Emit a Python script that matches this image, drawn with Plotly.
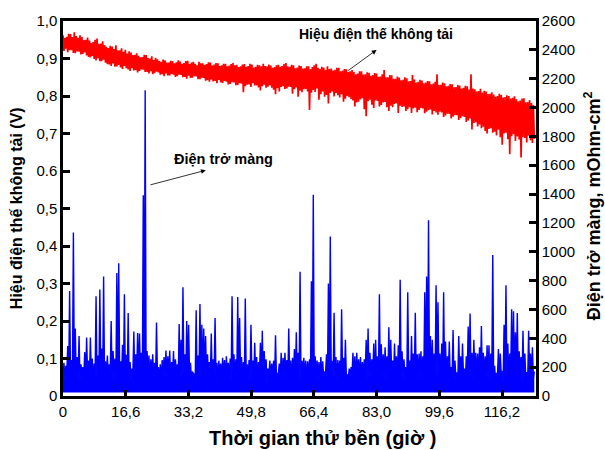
import plotly.graph_objects as go

# ---------------- data ----------------
# Open-circuit voltage (V): band tops at t = 0, 0.5, 1.0, ... h and band bottoms at t = 0.25, 0.75, ...
ocv_hours_top = [i * 0.5 for i in range(250)]
ocv_top = [
    0.962, 0.955, 0.958, 0.966, 0.965, 0.957, 0.970, 0.960, 0.955, 0.962,
    0.957, 0.949, 0.950, 0.956, 0.948, 0.941, 0.944, 0.950, 0.953, 0.939,
    0.940, 0.946, 0.936, 0.931, 0.928, 0.934, 0.932, 0.925, 0.935, 0.922,
    0.922, 0.927, 0.918, 0.923, 0.913, 0.919, 0.916, 0.909, 0.910, 0.914,
    0.907, 0.903, 0.904, 0.910, 0.909, 0.901, 0.900, 0.906, 0.896, 0.902,
    0.898, 0.893, 0.891, 0.897, 0.895, 0.889, 0.889, 0.894, 0.893, 0.887,
    0.890, 0.895, 0.892, 0.886, 0.888, 0.893, 0.894, 0.885, 0.889, 0.891,
    0.886, 0.882, 0.891, 0.887, 0.887, 0.883, 0.885, 0.890, 0.889, 0.881,
    0.884, 0.888, 0.887, 0.880, 0.882, 0.886, 0.886, 0.879, 0.881, 0.885,
    0.888, 0.882, 0.883, 0.877, 0.879, 0.884, 0.885, 0.878, 0.880, 0.886,
    0.884, 0.876, 0.878, 0.883, 0.882, 0.879, 0.886, 0.880, 0.879, 0.884,
    0.881, 0.875, 0.877, 0.882, 0.883, 0.878, 0.880, 0.885, 0.888, 0.879,
    0.878, 0.883, 0.882, 0.874, 0.876, 0.881, 0.880, 0.873, 0.874, 0.879,
    0.879, 0.872, 0.877, 0.882, 0.886, 0.875, 0.872, 0.878, 0.876, 0.870,
    0.879, 0.872, 0.873, 0.868, 0.870, 0.875, 0.875, 0.866, 0.868, 0.872,
    0.871, 0.864, 0.866, 0.869, 0.864, 0.858, 0.860, 0.866, 0.866, 0.857,
    0.858, 0.863, 0.862, 0.854, 0.856, 0.861, 0.860, 0.851, 0.852, 0.858,
    0.869, 0.850, 0.850, 0.856, 0.855, 0.846, 0.846, 0.852, 0.849, 0.842,
    0.843, 0.850, 0.847, 0.839, 0.840, 0.856, 0.844, 0.836, 0.838, 0.843,
    0.841, 0.834, 0.836, 0.840, 0.839, 0.831, 0.833, 0.838, 0.858, 0.830,
    0.830, 0.836, 0.834, 0.826, 0.827, 0.832, 0.831, 0.823, 0.824, 0.829,
    0.828, 0.820, 0.822, 0.827, 0.826, 0.817, 0.858, 0.820, 0.818, 0.812,
    0.813, 0.819, 0.809, 0.814, 0.812, 0.805, 0.806, 0.810, 0.804, 0.798,
    0.800, 0.806, 0.803, 0.796, 0.797, 0.802, 0.800, 0.793, 0.795, 0.799,
    0.791, 0.786, 0.788, 0.793, 0.794, 0.783, 0.784, 0.789, 0.781, 0.776,
]
ocv_hours_bot = [i * 0.5 + 0.25 for i in range(250)]
ocv_bot = [
    0.920, 0.926, 0.917, 0.922, 0.922, 0.915, 0.914, 0.919, 0.918, 0.911,
    0.912, 0.916, 0.908, 0.904, 0.903, 0.907, 0.899, 0.895, 0.901, 0.893,
    0.893, 0.897, 0.889, 0.885, 0.884, 0.880, 0.887, 0.878, 0.879, 0.883,
    0.876, 0.872, 0.880, 0.874, 0.871, 0.867, 0.874, 0.868, 0.869, 0.863,
    0.867, 0.871, 0.870, 0.864, 0.864, 0.860, 0.866, 0.858, 0.861, 0.865,
    0.863, 0.857, 0.858, 0.853, 0.860, 0.855, 0.855, 0.859, 0.857, 0.851,
    0.853, 0.857, 0.856, 0.850, 0.851, 0.846, 0.854, 0.848, 0.849, 0.853,
    0.852, 0.845, 0.845, 0.849, 0.848, 0.841, 0.842, 0.838, 0.844, 0.839,
    0.840, 0.834, 0.843, 0.836, 0.835, 0.840, 0.838, 0.831, 0.832, 0.837,
    0.836, 0.829, 0.829, 0.834, 0.833, 0.810, 0.826, 0.830, 0.831, 0.824,
    0.834, 0.828, 0.828, 0.823, 0.815, 0.826, 0.830, 0.822, 0.825, 0.829,
    0.822, 0.817, 0.805, 0.821, 0.812, 0.824, 0.826, 0.819, 0.820, 0.825,
    0.824, 0.806, 0.818, 0.823, 0.798, 0.814, 0.810, 0.818, 0.819, 0.812,
    0.763, 0.809, 0.816, 0.811, 0.820, 0.790, 0.805, 0.812, 0.798, 0.803,
    0.780, 0.808, 0.812, 0.799, 0.808, 0.802, 0.796, 0.805, 0.785, 0.793,
    0.800, 0.797, 0.792, 0.788, 0.772, 0.783, 0.785, 0.791, 0.794, 0.765,
    0.746, 0.786, 0.790, 0.777, 0.768, 0.788, 0.787, 0.772, 0.776, 0.783,
    0.784, 0.770, 0.760, 0.774, 0.770, 0.779, 0.781, 0.755, 0.774, 0.771,
    0.772, 0.760, 0.765, 0.770, 0.755, 0.767, 0.769, 0.757, 0.763, 0.768,
    0.767, 0.754, 0.758, 0.762, 0.764, 0.751, 0.760, 0.756, 0.750, 0.758,
    0.756, 0.744, 0.748, 0.753, 0.752, 0.740, 0.745, 0.749, 0.749, 0.736,
    0.741, 0.746, 0.744, 0.731, 0.735, 0.740, 0.711, 0.728, 0.730, 0.719,
    0.724, 0.714, 0.718, 0.707, 0.700, 0.712, 0.714, 0.702, 0.705, 0.695,
    0.710, 0.690, 0.670, 0.700, 0.702, 0.685, 0.645, 0.693, 0.698, 0.680,
    0.692, 0.684, 0.636, 0.690, 0.688, 0.676, 0.694, 0.682, 0.675, 0.686,
]

# Membrane resistance (mOhm-cm2): peaks at t = 0.25, 0.75, ... and troughs at t = 0, 0.5, ...
res_hours_peak = [i * 0.5 + 0.25 for i in range(250)]
res_peak = [
    230, 210, 346, 728, 250, 1134, 468, 270, 416, 220, 200, 304, 406, 245, 406, 260, 225, 692, 280, 738,
    330, 829, 240, 280, 220, 520, 312, 260, 853, 920, 240, 356, 705, 285, 575, 235, 190, 447, 290, 437,
    434, 300, 1391, 2119, 312, 280, 255, 290, 230, 510, 200, 220, 250, 270, 315, 275, 315, 235, 312, 255,
    220, 499, 390, 754, 290, 520, 494, 230, 170, 150, 595, 280, 637, 494, 468, 416, 290, 235, 434, 255,
    541, 230, 245, 225, 265, 250, 275, 230, 260, 692, 290, 255, 686, 541, 270, 235, 676, 220, 250, 494,
    245, 369, 270, 235, 369, 452, 312, 255, 190, 245, 225, 245, 421, 160, 225, 300, 265, 300, 250, 468,
    245, 265, 325, 442, 300, 861, 245, 265, 245, 240, 255, 796, 1396, 275, 245, 235, 270, 240, 170, 290,
    780, 1105, 245, 577, 270, 250, 245, 601, 265, 390, 150, 190, 200, 300, 275, 300, 255, 270, 235, 255,
    390, 468, 300, 255, 364, 390, 275, 705, 359, 290, 338, 275, 476, 390, 245, 364, 275, 351, 806, 310,
    255, 200, 720, 245, 416, 295, 577, 290, 295, 310, 275, 720, 829, 1219, 416, 390, 295, 767, 650, 295,
    364, 720, 377, 275, 377, 200, 458, 245, 165, 416, 275, 364, 190, 275, 481, 572, 300, 390, 300, 295,
    338, 486, 300, 275, 351, 351, 295, 978, 210, 160, 325, 295, 175, 494, 767, 364, 295, 601, 588, 442,
    575, 310, 270, 452, 295, 165, 452, 295, 338, 170,
]
res_hours_trough = [i * 0.5 for i in range(250)]
res_trough = [
    125, 110, 150, 100, 140, 120, 160, 115, 130, 105, 145, 125, 100, 155, 118, 135, 90, 148, 122, 110, 165, 128, 102, 140, 116,
    150, 108, 132, 120, 95, 158, 125, 112, 142, 100, 130, 118, 155, 90, 135, 122, 148, 105, 128, 115, 160, 100, 138, 125, 110,
    145, 118, 102, 152, 126, 114, 140, 96, 134, 120, 158, 108, 130, 116, 148, 92, 124, 138, 110, 156, 122, 104, 142, 128, 114,
    136, 100, 150, 120, 112, 145, 126, 94, 154, 118, 130, 108, 140, 124, 102, 160, 116, 134, 98, 148, 122, 110, 138, 126, 105,
    152, 116, 130, 100, 146, 124, 112, 158, 96, 136, 120, 142, 108, 128, 154, 114, 102, 140, 126, 90, 150, 118, 134, 106, 144,
    122, 110, 156, 128, 100, 142, 116, 134, 94, 150, 124, 108, 138, 120, 160, 104, 130, 146, 112, 126, 98, 152, 118, 136, 114,
    140, 106, 128, 154, 118, 96, 146, 124, 110, 136, 158, 102, 130, 120, 144, 92, 126, 150, 114, 134, 108, 142, 122, 100, 148,
    116, 132, 104, 156, 124, 112, 138, 98, 150, 126, 118, 144, 106, 130, 160, 114, 122, 140, 96, 152, 128, 110, 136, 120, 146,
    108, 134, 124, 100, 154, 118, 142, 112, 128, 94, 148, 122, 136, 106, 158, 116, 130, 102, 144, 126, 114, 150, 98, 138, 120,
    132, 110, 156, 124, 104, 140, 118, 148, 96, 134, 122, 114, 152, 128, 106, 142, 116, 160, 100, 130, 124, 112, 146, 108, 126,
]
# lowest level of the resistance trace (bottom edge of the blue band)
res_floor_hours = [0, 124.75]
res_floor = [24, 24]

x_tick_vals = [0, 16.6, 33.2, 49.8, 66.4, 83.0, 99.6, 116.2]
x_tick_text = ["0", "16,6", "33,2", "49,8", "66,4", "83,0", "99,6", "116,2"]
y_tick_vals = [0, 0.1, 0.2, 0.3, 0.4, 0.5, 0.6, 0.7, 0.8, 0.9, 1.0]
y_tick_text = ["0", "0,1", "0,2", "0,3", "0,4", "0,5", "0.6", "0,7", "0,8", "0,9", "1,0"]
y2_tick_vals = list(range(0, 2601, 200))
y2_tick_text = [str(v) for v in y2_tick_vals]

# ---------------- build interleaved traces ----------------
def interleave(xa, ya, xb, yb):
    xs, ys = [], []
    for i in range(max(len(xa), len(xb))):
        if i < len(xa):
            xs.append(xa[i]); ys.append(ya[i])
        if i < len(xb):
            xs.append(xb[i]); ys.append(yb[i])
    return xs, ys

ocv_x, ocv_y = interleave(ocv_hours_top, ocv_top, ocv_hours_bot, ocv_bot)
res_x, res_y = interleave(res_hours_trough, res_trough, res_hours_peak, res_peak)

fig = go.Figure()
fig.add_trace(go.Scatter(x=ocv_x, y=ocv_y, mode="lines",
                         line=dict(color="#FF0000", width=1.7, simplify=False), yaxis="y",
                         showlegend=False, hoverinfo="skip"))
fig.add_trace(go.Scatter(x=res_floor_hours, y=res_floor, mode="lines",
                         line=dict(color="#0000FF", width=0), yaxis="y2",
                         showlegend=False, hoverinfo="skip"))
fig.add_trace(go.Scatter(x=res_x, y=res_y, mode="lines", fill="tonexty", fillcolor="#0000FF",
                         line=dict(color="#0000FF", width=1.4, simplify=False), yaxis="y2",
                         showlegend=False, hoverinfo="skip"))

font_family = "Arial, Liberation Sans, sans-serif"
tickfont = dict(family=font_family, size=15, color="black")

fig.update_layout(
    width=605, height=450,
    margin=dict(l=63, r=69, t=17, b=54),
    paper_bgcolor="white", plot_bgcolor="white",
    xaxis=dict(range=[0, 125.2], tickvals=x_tick_vals, ticktext=x_tick_text,
               ticks="inside", ticklen=6, tickwidth=2.5, tickcolor="black",
               showline=True, linecolor="black", linewidth=2.5, mirror=True,
               showgrid=False, zeroline=False, tickfont=tickfont),
    yaxis=dict(range=[0, 1.0], tickvals=y_tick_vals, ticktext=y_tick_text,
               ticks="inside", ticklen=7, tickwidth=2.5, tickcolor="black",
               showline=True, linecolor="black", linewidth=2.5,
               showgrid=False, zeroline=False, tickfont=tickfont),
    yaxis2=dict(range=[0, 2600], tickvals=y2_tick_vals, ticktext=y2_tick_text,
                overlaying="y", side="right",
                ticks="inside", ticklen=7, tickwidth=2.5, tickcolor="black",
                showline=True, linecolor="black", linewidth=2.5,
                showgrid=False, zeroline=False, tickfont=tickfont),
)

fig.add_annotation(xref="paper", yref="paper", x=-0.098, y=0.5,
                   text="<b>Hiệu điện thế không tải (V)</b>", textangle=-90,
                   showarrow=False, font=dict(family=font_family, size=16, color="black"),
                   xanchor="center", yanchor="middle")
fig.add_annotation(xref="paper", yref="paper", x=1.12, y=0.508,
                   text="<b>Điện trở màng, mOhm-cm<sup>2</sup></b>", textangle=-90,
                   showarrow=False, font=dict(family=font_family, size=18, color="black"),
                   xanchor="center", yanchor="middle")
fig.add_annotation(xref="paper", yref="paper", x=0.548, y=-0.112,
                   text="<b>Thời gian thử bền (giờ )</b>",
                   showarrow=False, font=dict(family=font_family, size=20, color="black"),
                   xanchor="center", yanchor="middle")

fig.add_annotation(x=61.9, y=0.966, xref="x", yref="y", text="<b>Hiệu điện thế không tải</b>",
                   showarrow=False, font=dict(family=font_family, size=14, color="black"),
                   xanchor="left", yanchor="middle")
fig.add_annotation(x=28.8, y=0.631, xref="x", yref="y", text="<b>Điện trở màng</b>",
                   showarrow=False, font=dict(family=font_family, size=14.5, color="black"),
                   xanchor="left", yanchor="middle")
# arrows
fig.add_annotation(x=83.0, y=0.923, ax=75.1, ay=0.865, xref="x", yref="y", axref="x", ayref="y",
                   text="", showarrow=True, arrowhead=2, arrowsize=1.2, arrowwidth=0.8, arrowcolor="black")
fig.add_annotation(x=37.8, y=0.602, ax=22.75, ay=0.562, xref="x", yref="y", axref="x", ayref="y",
                   text="", showarrow=True, arrowhead=2, arrowsize=1.2, arrowwidth=0.8, arrowcolor="black")

fig.write_html("out.html")
